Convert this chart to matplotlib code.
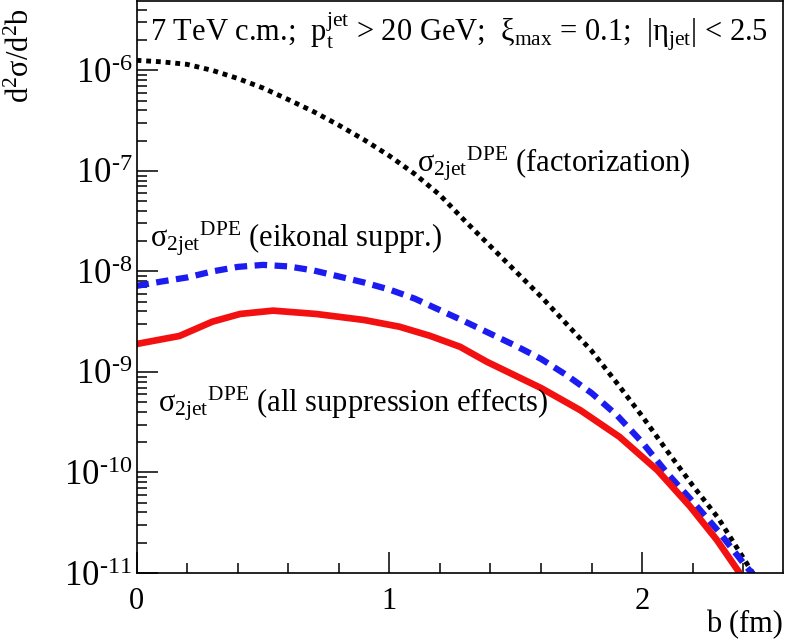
import numpy as np
import matplotlib
matplotlib.use("Agg")
import matplotlib.pyplot as plt
from matplotlib.ticker import FixedLocator, NullFormatter, FuncFormatter

plt.rcParams['font.family'] = ['Liberation Serif', 'DejaVu Serif']
plt.rcParams['mathtext.fontset'] = 'custom'
plt.rcParams['mathtext.rm'] = 'Liberation Serif'
plt.rcParams['mathtext.it'] = 'Liberation Serif:italic'

# b (fm) and d2sigma/d2b
b_fact = [0, 0.1, 0.2, 0.3, 0.4, 0.5, 0.6, 0.7, 0.8, 0.9, 1.0, 1.1, 1.2, 1.3,
          1.4, 1.5, 1.6, 1.7, 1.8, 1.9, 2.0, 2.1, 2.2, 2.3, 2.4, 2.45]
log_fact = [-5.90, -5.915, -5.94, -6.00, -6.08, -6.175, -6.29, -6.41, -6.545,
            -6.69, -6.85, -7.03, -7.24, -7.50, -7.75, -8.00, -8.25, -8.52,
            -8.79, -9.11, -9.44, -9.79, -10.13, -10.45, -10.85, -11.05]

b_eik = [0, 0.1, 0.2, 0.3, 0.4, 0.5, 0.6, 0.7, 0.8, 0.9, 1.0, 1.1, 1.2, 1.3,
         1.4, 1.5, 1.6, 1.7, 1.8, 1.9, 2.0, 2.1, 2.2, 2.3, 2.4, 2.45]
log_eik = [-8.144, -8.10, -8.06, -8.00, -7.955, -7.935, -7.95, -7.99, -8.05,
           -8.11, -8.18, -8.27, -8.385, -8.50, -8.62, -8.74, -8.87, -9.03,
           -9.21, -9.43, -9.70, -10.01, -10.29, -10.58, -10.90, -11.05]

b_all = [0, 0.17, 0.30, 0.41, 0.54, 0.71, 0.90, 1.04, 1.16, 1.28, 1.385,
         1.60, 1.755, 1.91, 2.06, 2.19, 2.295, 2.38, 2.40]
log_all = [-8.722, -8.642, -8.50, -8.423, -8.39, -8.423, -8.483, -8.55, -8.64,
           -8.75, -8.898, -9.16, -9.38, -9.645, -9.977, -10.34, -10.67, -10.98,
           -11.05]

decades = [-11, -10, -9, -8, -7, -6]

fig = plt.figure(figsize=(7.86, 6.44), dpi=100)
ax = fig.add_axes([136.5 / 786, 71 / 644, (783 - 136.5) / 786, (643 - 71) / 644])

ax.plot(b_fact, 10 ** np.array(log_fact), color='black', lw=3.5,
        linestyle=(0, (1, 1)))
ax.plot(b_eik, 10 ** np.array(log_eik), color='#1c1cf0', lw=4.5,
        linestyle=(0, (2, 1.2)))
ax.plot(b_all, 10 ** np.array(log_all), color='#f21010', lw=4.8)

ax.set_yscale('log')
ax.set_xlim(0, 2.557)
ax.set_ylim(1e-11, 4.9e-6)

ax.xaxis.set_major_locator(FixedLocator([0, 1, 2]))
ax.xaxis.set_minor_locator(FixedLocator(np.arange(0.2, 2.6, 0.2)))
ax.yaxis.set_major_locator(FixedLocator([10.0 ** d for d in decades]))
ax.yaxis.set_minor_locator(FixedLocator(
    [k * 10.0 ** d for d in decades for k in range(2, 10) if k * 10.0 ** d < 4.9e-6]))
ax.yaxis.set_minor_formatter(NullFormatter())
ax.yaxis.set_major_formatter(FuncFormatter(
    lambda v, p: r'10$^{\text{-%d}}$' % abs(int(round(np.log10(v))))))
ax.xaxis.set_major_formatter(FuncFormatter(lambda v, p: '%d' % v))

ax.tick_params(which='major', direction='in', length=15, width=1.1,
               top=False, right=False, labelsize=22)
ax.tick_params(which='minor', direction='in', length=7.5, width=1.1,
               top=False, right=False)
ax.tick_params(axis='y', which='major', labelsize=25, pad=3)
ax.tick_params(axis='x', which='major', pad=10)
for s in ax.spines.values():
    s.set_linewidth(1.2)

fs = 22
sig = r'σ$_{\mathregular{2jet}}$$^{\mathregular{DPE}}$'
ax.text(0.055, 10 ** -5.711,
        r'7 TeV c.m.;  p$_{\mathregular{t}}^{\mathregular{jet}}$ > 20 GeV;  '
        r'ξ$_{\mathregular{max}}$ = 0.1;  |η$_{\mathregular{jet}}$| < 2.5',
        fontsize=fs, va='baseline', ha='left')
ax.text(1.11, 10 ** -7.009, sig + ' (factorization)',
        fontsize=fs, va='baseline', ha='left')
ax.text(0.054, 10 ** -7.753, sig + ' (eikonal suppr.)',
        fontsize=fs, va='baseline', ha='left')
ax.text(0.085, 10 ** -9.396, sig + ' (all suppression effects)',
        fontsize=fs, va='baseline', ha='left')

fig.text(21 / 786, 1 - 8 / 644,
         r'd$^{\mathregular{2}}$σ/d$^{\mathregular{2}}$b',
         rotation=90, fontsize=fs, ha='center', va='top')
fig.text(783 / 786, 1 - 632 / 644, 'b (fm)', fontsize=fs,
         ha='right', va='baseline')

fig.savefig('out.png', dpi=100)
